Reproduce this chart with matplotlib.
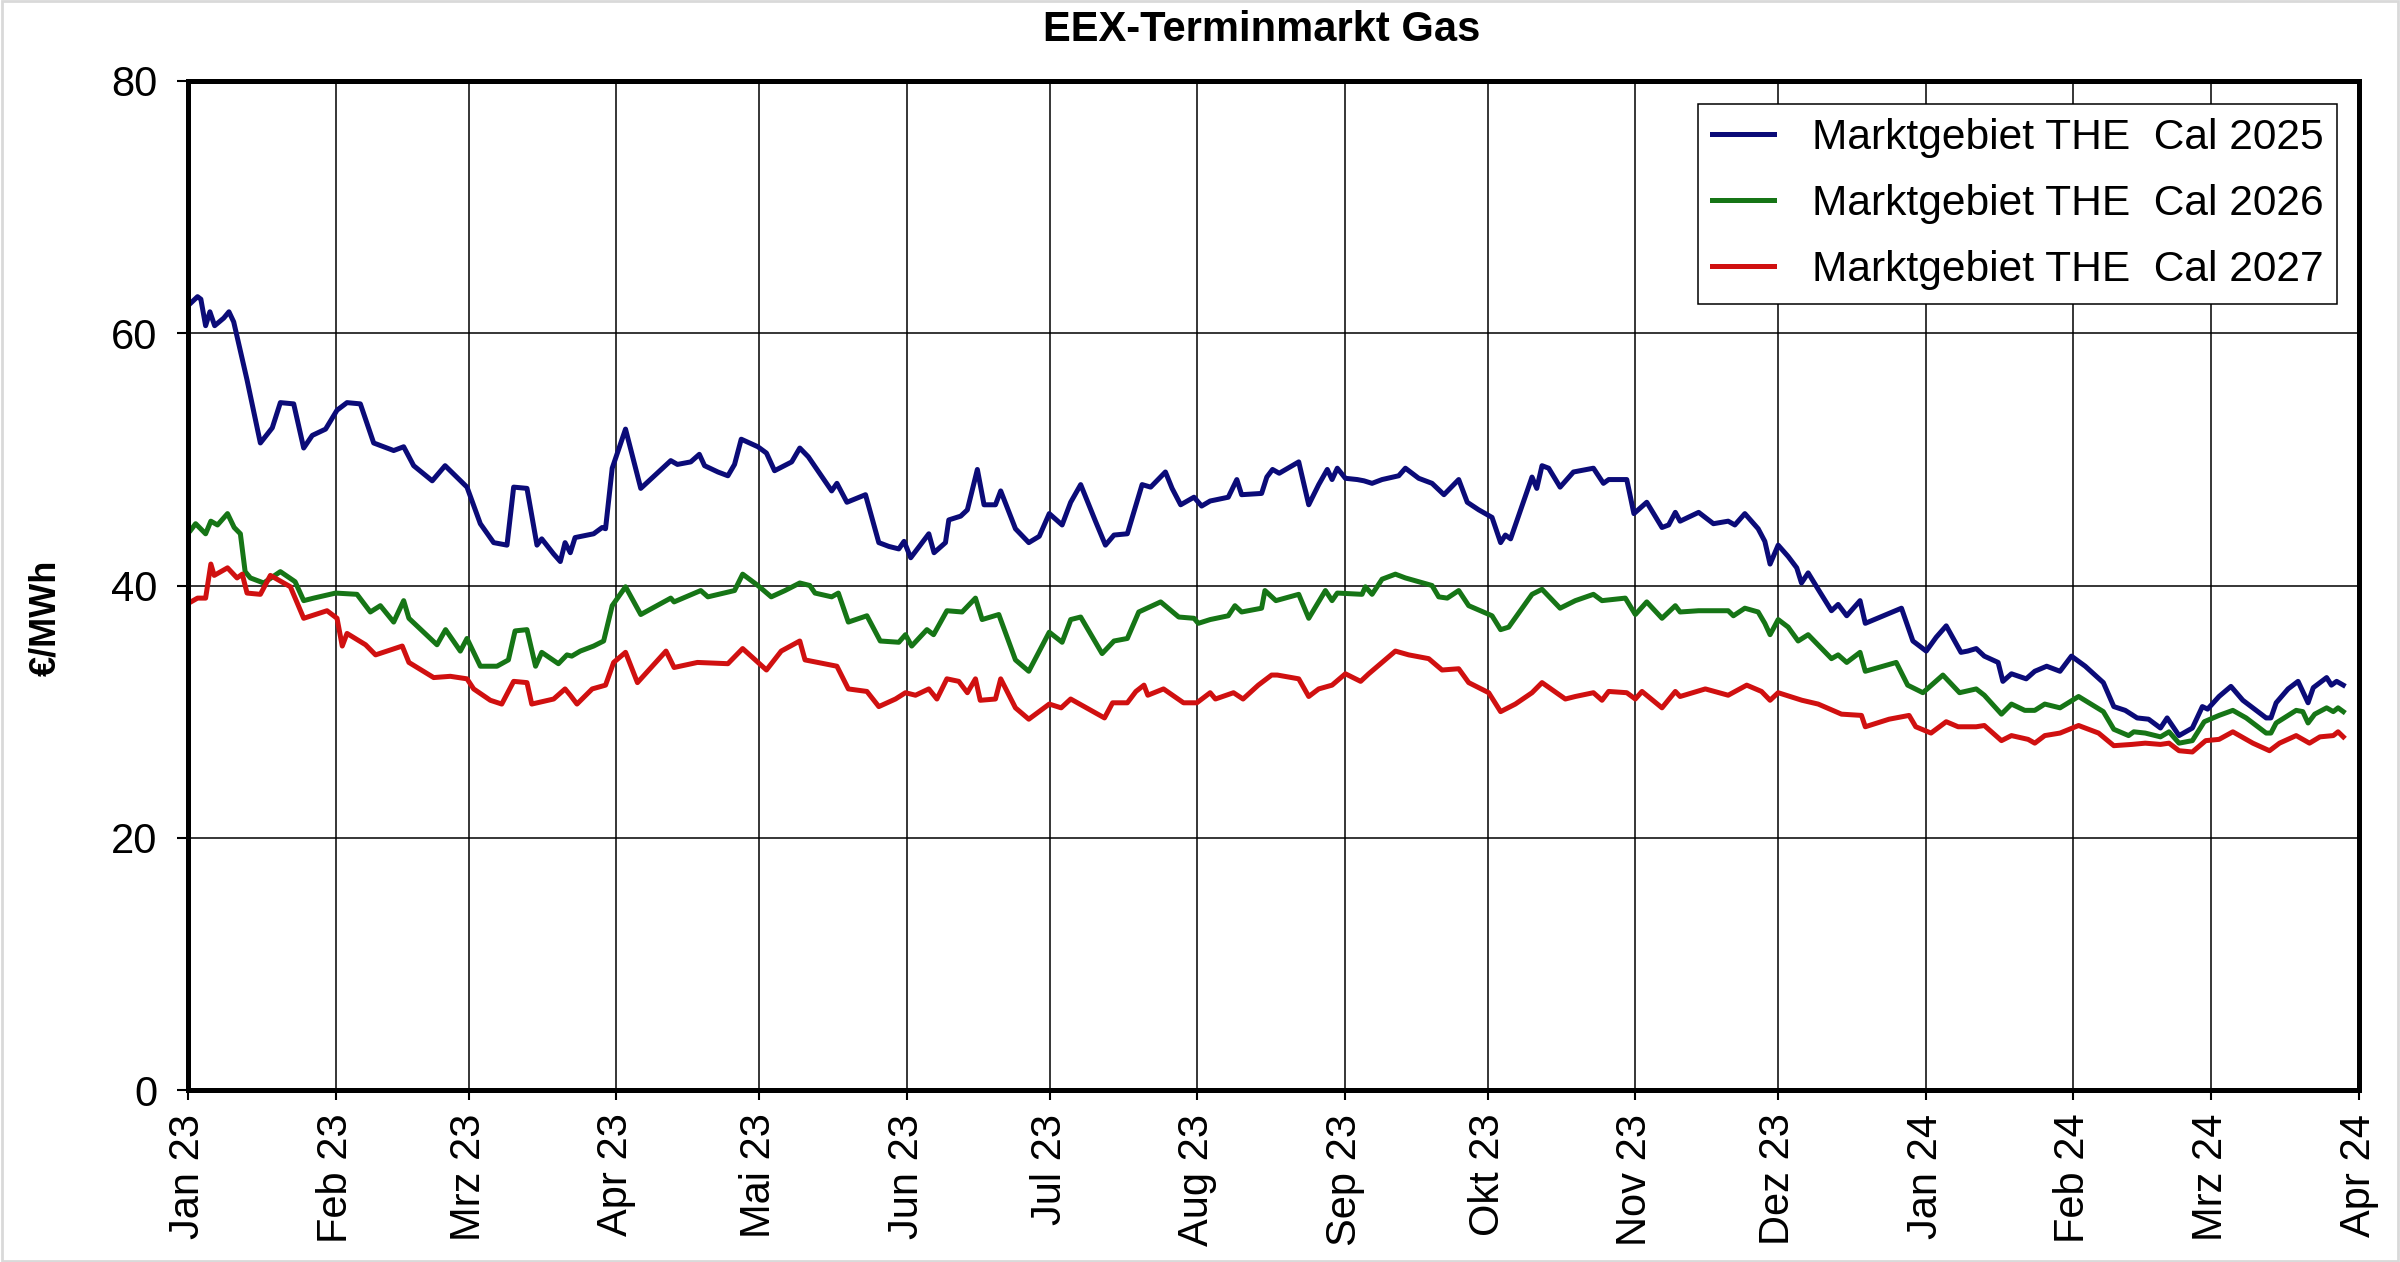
import numpy as np
import matplotlib
matplotlib.use("Agg")
import matplotlib.pyplot as plt
import matplotlib.dates as mdates
from matplotlib.patches import Rectangle
from datetime import datetime

plt.rcParams['font.family'] = ['Liberation Sans', 'DejaVu Sans']

# ---- data: x = days since 2023-01-01, y = EUR/MWh ----
cal25_days = [0.6, 2, 2.7, 3.7, 4.6, 5.6, 7.5, 8.6, 9.6, 12.4, 15.2, 17.7, 19.4, 22.2, 24.3, 26.1, 28.9, 31.3, 33.4, 36.2,
              39, 43.2, 45.3, 47.4, 51.3, 54, 58.6, 61.4, 64.2, 67, 68.4, 71.2, 73.3, 74.3, 76.8,
              78.2, 79.2, 80.3, 81.3, 85.2, 87, 87.7, 89.1, 91.9, 95.1, 101.4, 102.8, 105.6, 107.4, 108.5, 111.3, 113.4,
              114.8, 116.2, 119.7, 121.5, 123.2, 126.8, 128.5, 130.3, 135.2, 136.3, 138.4, 142.3, 145.1, 147.2, 149.3, 150.4,
              151.8, 155.6, 156.7, 159.1, 159.8, 162.3, 163.7, 165.8, 167.2, 169.6, 170.7, 173.8, 176.6, 178.8, 180.9,
              183.6, 185.4, 187.5, 190.6, 192.7, 194.5, 197.3, 200.4, 202.2, 205.3, 206.7, 208.5, 211.3, 212.9, 214.7,
              218.5, 220.3, 221.3, 225.5,
              226.6, 227.8, 229.2, 233.3, 235.4, 237.5, 239.3, 240.3, 241.4, 243.1, 245.6, 247, 248.7, 250.8, 254.3,
              255.7, 258.5, 261.3, 263.8, 266.9, 268.7, 271.1, 273.9, 275.7, 276.7, 277.8, 282.3, 283.3, 284.4, 285.8,
              288.2, 291, 295.2, 297.3, 298.4, 302.2,
              303.7, 306.4, 309.6, 311, 312.4, 313.4, 317.3, 320.4, 323.5, 324.9, 327, 329.8, 331.2, 332.3, 334, 336.1,
              337.9, 338.9, 340.3, 342.4, 345.2, 346.6, 348.4, 351.2, 352.3, 359.9, 362.3, 365.1, 367.2, 369.3, 372.4,
              373.8, 375.6,
              377.3, 380.2, 381.2, 383, 386.1, 387.9, 390.4, 393.2, 395.6, 398.5, 402.3, 404.5, 406.9, 409.4, 411.8,
              414.3, 415.7, 418.2, 421, 423.1, 424.2, 426.6, 429.1, 431.6, 433.7, 436.5, 437.5, 438.6, 441.1, 443.2,
              445.3, 446.4, 449.2, 450.2, 451.3, 452.7]
cal25_vals = [62.4, 62.9, 62.7, 60.6, 61.7, 60.6, 61.2, 61.7, 60.9, 56.3, 51.3, 52.5, 54.5, 54.4, 50.9, 51.9, 52.4, 53.9, 54.5, 54.4,
              51.3, 50.7, 51.0, 49.5, 48.3, 49.5, 47.8, 44.9, 43.4, 43.2, 47.8, 47.7, 43.2, 43.7, 42.5,
              41.9, 43.4, 42.6, 43.8, 44.1, 44.6, 44.5, 49.3, 52.4, 47.7, 49.9, 49.6, 49.8, 50.4, 49.5, 49.0, 48.7,
              49.6, 51.6, 51.0, 50.5, 49.1, 49.8, 50.9, 50.2, 47.5, 48.1, 46.6, 47.2, 43.4, 43.1, 42.9, 43.5,
              42.2, 44.1, 42.6, 43.4, 45.2, 45.5, 46.0, 49.2, 46.4, 46.4, 47.5, 44.5, 43.4, 43.9, 45.7,
              44.8, 46.6, 48.0, 45.1, 43.2, 44.0, 44.1, 48.0, 47.8, 49.0, 47.7, 46.4, 47.0, 46.3, 46.7,
              47.0, 48.4, 47.2, 47.3,
              48.6, 49.2, 48.9, 49.8, 46.4, 48.0, 49.2, 48.4, 49.3, 48.5, 48.4, 48.3, 48.1, 48.4, 48.7,
              49.3, 48.5, 48.1, 47.2, 48.4, 46.6, 46.0, 45.4, 43.4, 44.0, 43.7, 48.6, 47.7, 49.5, 49.3,
              47.8, 49.0, 49.3, 48.1, 48.4, 48.4,
              45.7, 46.6, 44.6, 44.8, 45.8, 45.1, 45.8, 44.9, 45.1, 44.8, 45.7, 44.5, 43.5, 41.7, 43.2, 42.3,
              41.4, 40.2, 41.0, 39.7, 38.0, 38.5, 37.6, 38.8, 37.0, 38.2, 35.6, 34.8, 35.9, 36.8, 34.7,
              34.8, 35.0,
              34.4, 33.9, 32.4, 33.0, 32.6, 33.2, 33.6, 33.2, 34.4, 33.6, 32.3, 30.4, 30.1, 29.5, 29.4,
              28.7, 29.5, 28.1, 28.7, 30.4, 30.2, 31.2, 32.0, 30.9, 30.3, 29.5, 29.5, 30.7, 31.8, 32.4,
              30.7, 31.9, 32.7, 32.1, 32.4, 32.1]

cal26_days = [0.6, 1.6, 3.7, 4.8, 6.2, 8.3, 9.7, 11, 12, 13.1, 15.9, 19.4, 22.5, 24.3, 26.4, 31, 35.5, 38.3, 40.4, 43.2,
              45.3, 46.4, 50.6, 52.3, 54.1, 57.2, 58.6, 61.4, 64.9, 67.3, 68.7, 71.2, 73, 74.3, 77.8,
              79.6, 80.6, 82.4, 85.2, 87.3, 89.1, 91.9, 95.1, 101.4, 102.1, 107.7, 109.2, 114.8, 116.5, 119.7, 122.5,
              125.4, 128.5, 130.6, 131.7, 135.2, 136.6, 138.7, 142.6, 145.4, 149.3, 150.7,
              152, 155.2, 156.6, 159.4, 162.6, 165.4, 166.8, 170.3, 173.8, 176.6, 180.9, 183.6, 185.4, 187.5, 192,
              194.5, 197.3, 199.7, 204.3, 208.1, 211.3, 212.2, 214.7, 218.5, 219.9, 221.3, 225.5, 226.2,
              228.5, 233.3, 235.4, 238.9, 240.3, 241.4, 246.6, 247.3, 248.7, 250.8, 253.6, 255.7, 261.3, 262.7, 264.5,
              266.9, 269, 273.9, 275.7, 277.4, 282.3, 284.4, 288.2, 291.4, 295.2, 297, 301.9,
              304, 306.4, 309.6, 312.4, 313.4, 317.3, 323.5, 324.6, 327, 329.8, 331.2, 332.3, 334, 336.1, 338.2,
              340.3, 345.2, 346.6, 348.4, 351.2, 352.3, 358.8, 361.2, 364.4, 368.6, 372.1, 375.6,
              377.3, 380.9, 383, 385.8, 387.9, 390, 393.2, 397.1, 402.3, 404.5, 407.6, 408.7, 411.1, 414.3, 416.1,
              418.2, 421, 423.5, 426.6, 429.5, 432.3, 436.5, 437.5, 438.6, 442.8, 444.2, 445.3, 446.7, 449.2,
              450.6, 451.6, 452.7]
cal26_vals = [44.4, 44.9, 44.1, 45.1, 44.8, 45.7, 44.6, 44.1, 41.1, 40.6, 40.2, 41.1, 40.3, 38.8, 39.0, 39.4, 39.3, 37.9, 38.4, 37.1,
              38.8, 37.4, 35.9, 35.3, 36.5, 34.8, 35.8, 33.6, 33.6, 34.1, 36.4, 36.5, 33.6, 34.7, 33.8,
              34.5, 34.4, 34.8, 35.2, 35.6, 38.4, 39.9, 37.7, 39.0, 38.7, 39.6, 39.1, 39.6, 40.9, 40.0, 39.1,
              39.6, 40.2, 40.0, 39.4, 39.1, 39.4, 37.1, 37.6, 35.6, 35.5, 36.1,
              35.2, 36.5, 36.1, 38.0, 37.9, 39.0, 37.3, 37.7, 34.1, 33.2, 36.3, 35.5, 37.3, 37.5, 34.6,
              35.6, 35.8, 37.9, 38.7, 37.5, 37.4, 37.0, 37.3, 37.6, 38.4, 37.9, 38.2, 39.6,
              38.8, 39.3, 37.4, 39.6, 38.8, 39.4, 39.3, 39.9, 39.3, 40.5, 40.9, 40.6, 40.0, 39.1, 39.0,
              39.6, 38.4, 37.6, 36.5, 36.7, 39.3, 39.7, 38.2, 38.8, 39.3, 38.8, 39.0,
              37.7, 38.7, 37.4, 38.4, 37.9, 38.0, 38.0, 37.6, 38.2, 37.9, 37.0, 36.1, 37.3, 36.7, 35.6,
              36.1, 34.2, 34.5, 33.9, 34.7, 33.2, 33.9, 32.1, 31.5, 32.9, 31.5, 31.8,
              31.3, 29.8, 30.6, 30.1, 30.1, 30.6, 30.3, 31.2, 30.0, 28.6, 28.1, 28.4, 28.3, 28.0, 28.4,
              27.5, 27.7, 29.2, 29.7, 30.1, 29.5, 28.3, 28.3, 29.1, 30.1, 30.0, 29.1, 29.8, 30.3,
              30.0, 30.3, 30.0]

cal27_days = [0.6, 2, 3.7, 4.8, 5.5, 8.3, 10.3, 11.4, 12.4, 15.2, 17.3, 21.5, 24.3, 29.2, 31.3, 32.4, 33.4, 37.3, 39.4, 41.8,
              45, 46.4, 51.6, 55.1, 58.6, 60, 63.5, 65.9, 68.4, 71.2, 72.2, 76.8,
              79.2, 80.3, 81.7, 84.9, 87.7, 89.4, 91.9, 94.4, 100.4, 102.1, 107, 113.4, 116.5, 121.5, 124.6, 128.5,
              129.6, 136.3, 138.7, 142.6, 145.1, 148.6, 150.7,
              152.8, 155.6, 157.3, 159.4, 161.9, 163.7, 165.4, 166.4, 169.6, 170.7, 173.8, 176.6, 180.9, 183.4, 185.4,
              191.1, 192.5, 194.2, 197.3, 199.1, 200.8, 201.6, 204.9, 209.1, 211.9, 214.7, 215.8, 219.6, 221.6, 224.8, 227.6,
              228.8, 233.3, 235.4, 237.5, 240.3, 243.1, 246.3, 248, 253.6, 256.4, 260.6, 263.4, 266.9, 269, 273.2,
              275.7, 278.8, 282.3, 284.4, 289.3, 291.4, 295.2, 297, 298.4, 302.2,
              304, 305.4, 309.6, 312.4, 313.4, 318.7, 323.5, 327.4, 330.5, 332.3, 334, 339, 342.4, 347.3, 351.5,
              352.3, 357.3, 361.5, 362.9, 366.1, 369.3, 371.8, 375.6,
              377.3, 380.9, 383, 386.5, 387.9, 390, 393.2, 397.1, 401.3, 404.5, 408.3, 411.1, 414.3, 416.1, 418.2,
              421, 423.8, 426.6, 429.5, 433.7, 437.2, 439.3, 442.8, 445.6, 447.8, 450.6, 451.6, 452.7]
cal27_vals = [38.7, 39.0, 39.0, 41.7, 40.8, 41.4, 40.6, 40.9, 39.4, 39.3, 40.8, 39.9, 37.4, 38.0, 37.4, 35.2, 36.2, 35.3, 34.5, 34.8,
              35.2, 33.9, 32.7, 32.8, 32.6, 31.8, 30.9, 30.6, 32.4, 32.3, 30.6, 31.0,
              31.8, 31.3, 30.6, 31.8, 32.1, 33.9, 34.7, 32.3, 34.8, 33.5, 33.9, 33.8, 35.0, 33.3, 34.8, 35.6,
              34.1, 33.6, 31.8, 31.6, 30.4, 31.0, 31.5,
              31.3, 31.8, 31.0, 32.6, 32.4, 31.5, 32.6, 30.9, 31.0, 32.6, 30.3, 29.4, 30.6, 30.3, 31.0,
              29.8, 29.5, 30.7, 30.7, 31.6, 32.1, 31.3, 31.8, 30.7, 30.7, 31.5, 31.0, 31.5, 31.0, 32.1, 32.9,
              32.9, 32.6, 31.2, 31.8, 32.1, 33.0, 32.4, 33.0, 34.8, 34.5, 34.2, 33.3, 33.4, 32.3, 31.5,
              30.0, 30.6, 31.5, 32.3, 31.0, 31.2, 31.5, 30.9, 31.6, 31.5,
              31.0, 31.6, 30.3, 31.6, 31.2, 31.8, 31.3, 32.1, 31.6, 30.9, 31.5, 30.9, 30.6, 29.8, 29.7,
              28.8, 29.4, 29.7, 28.8, 28.3, 29.2, 28.8, 28.8,
              28.9, 27.7, 28.1, 27.8, 27.5, 28.1, 28.3, 28.9, 28.3, 27.3, 27.4, 27.5, 27.4, 27.5, 26.9,
              26.8, 27.7, 27.8, 28.4, 27.5, 26.9, 27.5, 28.1, 27.5, 28.0, 28.1, 28.4, 28.0]

series_labels = ["Marktgebiet THE  Cal 2025", "Marktgebiet THE  Cal 2026", "Marktgebiet THE  Cal 2027"]
series_colors = ["#0b0b78", "#167516", "#d01010"]

month_labels = ["Jan 23", "Feb 23", "Mrz 23", "Apr 23", "Mai 23", "Jun 23", "Jul 23", "Aug 23",
                "Sep 23", "Okt 23", "Nov 23", "Dez 23", "Jan 24", "Feb 24", "Mrz 24", "Apr 24"]
month_starts = [datetime(2023 + (m // 12), (m % 12) + 1, 1) for m in range(16)]
y_ticks = [0, 20, 40, 60, 80]

# ---- figure ----
W, H = 2400, 1262
fig = plt.figure(figsize=(W / 100, H / 100), dpi=100)
fig.patch.set_facecolor("white")
L, R, T, B = 188, 2359, 81, 1090
ax = fig.add_axes([L / W, 1 - B / H, (R - L) / W, (B - T) / H])

base = mdates.date2num(datetime(2023, 1, 1))
for days, vals, lab, col in zip([cal25_days, cal26_days, cal27_days],
                                [cal25_vals, cal26_vals, cal27_vals],
                                series_labels, series_colors):
    ax.plot(base + np.array(days), vals, color=col, lw=3.6, label=lab, zorder=3)

ticks = mdates.date2num(month_starts)
ax.set_xlim(ticks[0], ticks[-1])
ax.set_xticks(ticks)
ax.set_xticklabels(month_labels, rotation=90, fontsize=30)
ax.set_ylim(0, 80)
ax.set_yticks(y_ticks)
ax.set_yticklabels([str(v) for v in y_ticks], fontsize=30)
ax.tick_params(axis='y', direction='out', length=8, width=1.5, pad=14)
ax.tick_params(axis='x', direction='out', length=7, width=1.5, pad=10)
ax.grid(True, color='black', lw=1.1, zorder=1)
for s in ax.spines.values():
    s.set_linewidth(3.6)
    s.set_color('black')
    s.set_zorder(4)

leg = ax.legend(loc='upper right', bbox_to_anchor=(2337 / W, 1 - 104 / H), bbox_transform=fig.transFigure,
                borderaxespad=0, fontsize=30.6, handlelength=1.45, handletextpad=0.9, labelspacing=0.62,
                borderpad=0.32, fancybox=False, framealpha=1, edgecolor='black')
leg.get_frame().set_linewidth(1.1)
for h in leg.get_lines():
    h.set_linewidth(3.6)

fig.text(1262 / W, 1 - 30 / H, "EEX-Terminmarkt Gas", ha='center', va='center', fontsize=30, fontweight='bold')
fig.text(46 / W, 1 - 618 / H, "€/MWh", ha='center', va='center', rotation=90, fontsize=26, fontweight='bold')

fig.patches.append(Rectangle((0.001, 0.001), 0.998, 0.998, transform=fig.transFigure,
                             fill=False, edgecolor='#d9d9d9', lw=2))

fig.savefig("out.png", dpi=100)
